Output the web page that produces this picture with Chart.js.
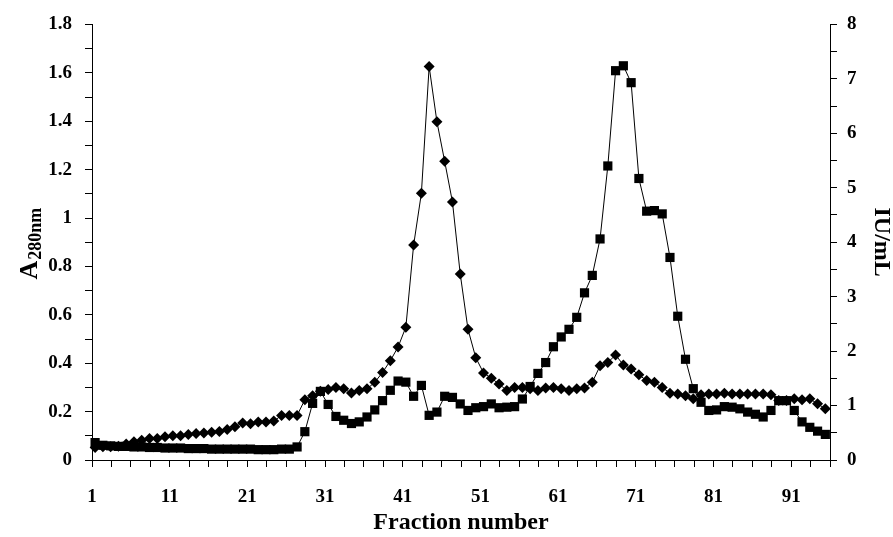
<!DOCTYPE html>
<html>
<head>
<meta charset="utf-8">
<script src="https://cdn.jsdelivr.net/npm/chart.js@4.4.0/dist/chart.umd.min.js"></script>
<style>
  html, body { margin: 0; padding: 0; background: #fff; }
  #wrap { width: 893px; height: 537px; }
</style>
</head>
<body>
<div id="wrap"><canvas id="chart" width="893" height="537"></canvas></div>
<script>
// fraction numbers (x)
const fractions = [
  1, 2, 3, 4, 5, 6, 7, 8, 9, 10, 11, 12, 13, 14, 15, 16, 17, 18, 19, 20,
  21, 22, 23, 24, 25, 26, 27, 28, 29, 30, 31, 32, 33, 34, 35, 36, 37, 38, 39, 40,
  41, 42, 43, 44, 45, 46, 47, 48, 49, 50, 51, 52, 53, 54, 55, 56, 57, 58, 59, 60,
  61, 62, 63, 64, 65, 66, 67, 68, 69, 70, 71, 72, 73, 74, 75, 76, 77, 78, 79, 80,
  81, 82, 83, 84, 85, 86, 87, 88, 89, 90, 91, 92, 93, 94, 95
];

// absorbance at 280 nm (diamonds, left axis)
const a280 = [
  0.052, 0.055, 0.055, 0.057, 0.066, 0.075, 0.082, 0.089, 0.089, 0.096,
  0.100, 0.100, 0.105, 0.109, 0.112, 0.115, 0.118, 0.126, 0.137, 0.153,
  0.150, 0.157, 0.157, 0.161, 0.184, 0.184, 0.184, 0.249, 0.266, 0.284,
  0.291, 0.300, 0.294, 0.277, 0.287, 0.294, 0.321, 0.362, 0.410, 0.467,
  0.549, 0.888, 1.102, 1.626, 1.398, 1.234, 1.066, 0.769, 0.540, 0.423,
  0.360, 0.338, 0.314, 0.287, 0.300, 0.300, 0.294, 0.287, 0.298, 0.300,
  0.294, 0.287, 0.294, 0.298, 0.321, 0.389, 0.403, 0.434, 0.393, 0.376,
  0.352, 0.328, 0.321, 0.300, 0.276, 0.273, 0.266, 0.253, 0.270, 0.273,
  0.273, 0.276, 0.273, 0.273, 0.273, 0.273, 0.273, 0.270, 0.246, 0.246,
  0.253, 0.249, 0.253, 0.232, 0.212
];

// activity IU/mL (squares, right axis)
const activity = [
  0.32, 0.27, 0.26, 0.25, 0.25, 0.24, 0.24, 0.23, 0.23, 0.22,
  0.22, 0.22, 0.21, 0.21, 0.21, 0.20, 0.20, 0.20, 0.20, 0.20,
  0.20, 0.19, 0.19, 0.19, 0.20, 0.20, 0.24, 0.52, 1.04, 1.26,
  1.02, 0.80, 0.73, 0.67, 0.70, 0.79, 0.92, 1.09, 1.28, 1.45,
  1.43, 1.17, 1.37, 0.82, 0.88, 1.17, 1.15, 1.03, 0.91, 0.96,
  0.98, 1.03, 0.96, 0.97, 0.98, 1.12, 1.35, 1.59, 1.79, 2.08,
  2.26, 2.40, 2.62, 3.07, 3.39, 4.06, 5.40, 7.15, 7.24, 6.93,
  5.17, 4.57, 4.58, 4.52, 3.72, 2.64, 1.85, 1.31, 1.06, 0.91,
  0.92, 0.98, 0.97, 0.94, 0.88, 0.84, 0.79, 0.91, 1.09, 1.09,
  0.91, 0.70, 0.60, 0.53, 0.47
];

const xTickLabels = ["1", "11", "21", "31", "41", "51", "61", "71", "81", "91"];
const leftTickLabels = ["0", "0.2", "0.4", "0.6", "0.8", "1", "1.2", "1.4", "1.6", "1.8"];
const rightTickLabels = ["0", "1", "2", "3", "4", "5", "6", "7", "8"];

const FONT = "'Liberation Serif', 'Times New Roman', serif";

function axisGrid() {
  return {
    display: true,
    drawOnChartArea: false,
    drawTicks: true,
    tickLength: 7,
    color: "#000",
    lineWidth: 1
  };
}

// y-axis title with a subscript
const leftTitle = {
  id: "leftTitle",
  afterDraw(chart) {
    const ctx = chart.ctx;
    const cy = (chart.chartArea.top + chart.chartArea.bottom) / 2;
    ctx.save();
    ctx.translate(29, cy + 2);
    ctx.rotate(-Math.PI / 2);
    ctx.fillStyle = "#000";
    ctx.textBaseline = "alphabetic";
    ctx.font = "bold 26px " + FONT;
    const wA = ctx.measureText("A").width;
    ctx.font = "bold 18px " + FONT;
    const wS = ctx.measureText("280nm").width;
    const start = -(wA + wS) / 2;
    ctx.font = "bold 26px " + FONT;
    ctx.fillText("A", start, 8);
    ctx.font = "bold 18px " + FONT;
    ctx.fillText("280nm", start + wA + 1, 12);
    ctx.restore();
  }
};

new Chart(document.getElementById("chart"), {
  type: "line",
  data: {
    datasets: [
      {
        label: "A280nm",
        data: fractions.map((f, i) => ({ x: f, y: a280[i] })),
        yAxisID: "yL",
        borderColor: "#000",
        borderWidth: 1,
        backgroundColor: "#000",
        pointStyle: "rectRot",
        pointRadius: 5.5,
        pointBorderWidth: 0,
        pointBackgroundColor: "#000",
        tension: 0,
        clip: false
      },
      {
        label: "IU/mL",
        data: fractions.map((f, i) => ({ x: f, y: activity[i] })),
        yAxisID: "yR",
        borderColor: "#000",
        borderWidth: 1,
        backgroundColor: "#000",
        pointStyle: "rect",
        pointRadius: 6.5,
        pointBorderWidth: 0,
        pointBackgroundColor: "#000",
        tension: 0,
        clip: false
      }
    ]
  },
  options: {
    responsive: false,
    animation: false,
    devicePixelRatio: 1,
    layout: { padding: { top: 21, left: 0, right: 0, bottom: 0 } },
    plugins: {
      legend: { display: false },
      tooltip: { enabled: false }
    },
    scales: {
      x: {
        type: "linear",
        position: "bottom",
        min: 0.6,
        max: 95.6,
        afterBuildTicks: (scale) => {
          const t = [];
          for (let k = 0; k <= 38; k++) t.push({ value: 0.6 + 2.5 * k });
          scale.ticks = t;
        },
        afterFit: (scale) => { scale.height = 77; },
        grid: axisGrid(),
        border: { display: true, color: "#000", width: 1 },
        ticks: {
          autoSkip: false,
          maxRotation: 0,
          padding: 19,
          color: "#000",
          font: { family: FONT, size: 19, weight: "bold" },
          callback: (v, i) => (i % 4 === 0 ? xTickLabels[i / 4] : "")
        },
        title: {
          display: true,
          text: "Fraction number",
          color: "#000",
          font: { family: FONT, size: 24, weight: "bold", lineHeight: 1.2 },
          padding: { top: 0, bottom: 0 }
        }
      },
      yL: {
        type: "linear",
        position: "left",
        min: 0,
        max: 1.8,
        afterBuildTicks: (scale) => {
          const t = [];
          for (let k = 0; k <= 18; k++) t.push({ value: k * 0.1 });
          scale.ticks = t;
        },
        afterFit: (scale) => { scale.width = 92; },
        grid: axisGrid(),
        border: { display: true, color: "#000", width: 1 },
        ticks: {
          autoSkip: false,
          padding: 13,
          color: "#000",
          font: { family: FONT, size: 19, weight: "bold" },
          callback: (v, i) => (i % 2 === 0 ? leftTickLabels[i / 2] : "")
        }
      },
      yR: {
        type: "linear",
        position: "right",
        min: 0,
        max: 8,
        afterBuildTicks: (scale) => {
          const t = [];
          for (let k = 0; k <= 16; k++) t.push({ value: k * 0.5 });
          scale.ticks = t;
        },
        afterFit: (scale) => { scale.width = 63; },
        grid: axisGrid(),
        border: { display: true, color: "#000", width: 1 },
        ticks: {
          autoSkip: false,
          padding: 10,
          color: "#000",
          font: { family: FONT, size: 19, weight: "bold" },
          callback: (v, i) => (i % 2 === 0 ? rightTickLabels[i / 2] : "")
        },
        title: {
          display: true,
          text: "IU/mL",
          color: "#000",
          font: { family: FONT, size: 24, weight: "bold", lineHeight: 1 },
          padding: { top: 0, bottom: 0 }
        }
      }
    }
  },
  plugins: [leftTitle]
});
</script>
</body>
</html>
